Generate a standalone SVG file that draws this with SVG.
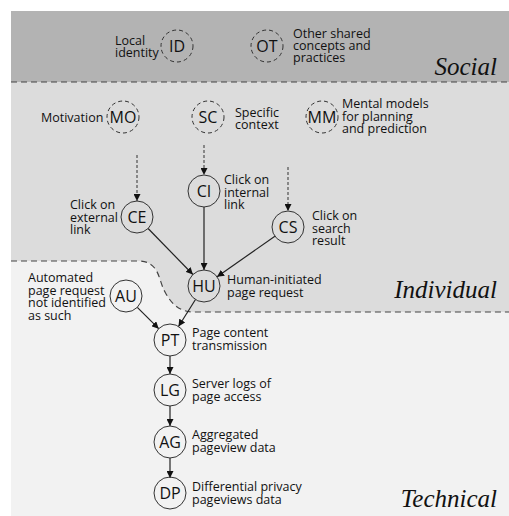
<svg xmlns="http://www.w3.org/2000/svg" width="509" height="516" viewBox="0 0 509 516">
<defs>
<style>
.lbl{font-family:"Open Sans","Noto Sans",sans-serif;font-size:12.5px;fill:#111}
.nt{font-family:"Open Sans","Noto Sans",sans-serif;font-size:16px;fill:#111;text-anchor:middle}
.region{font-family:"Liberation Serif",serif;font-style:italic;font-size:25px;fill:#111;text-anchor:end}
.n{fill:none;stroke:#333;stroke-width:1}
.nd{fill:none;stroke:#333;stroke-width:1;stroke-dasharray:4 3}
.edge{stroke:#222;stroke-width:1.2;fill:none;marker-end:url(#ah)}
.dedge{stroke:#333;stroke-width:1;fill:none;stroke-dasharray:3 2;marker-end:url(#ah)}
.bound{stroke:#444;stroke-width:1.2;fill:none;stroke-dasharray:6 4}
</style>
<marker id="ah" viewBox="0 0 10 10" refX="10" refY="5" markerWidth="7" markerHeight="7" markerUnits="userSpaceOnUse" orient="auto">
<path d="M0,0 L10,5 L0,10 z" fill="#111"/>
</marker>
</defs>
<g id="backgrounds">
<rect x="11" y="11" width="498" height="505" fill="#f2f2f2"/>
<path d="M11,82 H509 V312 H195 C180,312 172,305 165,292 C158,280 160,261 138,261 H11 Z" fill="#dcdcdc"/>
<rect x="11" y="11" width="498" height="71" fill="#b3b3b3"/>
<line x1="11" y1="82" x2="509" y2="82" class="bound"/>
<path d="M11,261 H138 C160,261 158,280 165,292 C172,305 180,312 195,312 H509" class="bound"/>
<text class="region" x="497" y="75">Social</text>
<text class="region" x="497" y="298">Individual</text>
<text class="region" x="497" y="507">Technical</text>
</g>
<g id="connectors">
<line class="dedge" x1="137" y1="155" x2="137" y2="201"/>
<line class="dedge" x1="204" y1="145" x2="204" y2="175"/>
<line class="dedge" x1="288" y1="167" x2="288" y2="211"/>
<line class="edge" x1="148.1" y1="228.5" x2="192.9" y2="274.5"/>
<line class="edge" x1="204" y1="207" x2="204" y2="270"/>
<line class="edge" x1="274.9" y1="236.2" x2="217.1" y2="276.8"/>
<line class="edge" x1="195.5" y1="299.5" x2="178.5" y2="326.5"/>
<line class="edge" x1="137.3" y1="307.3" x2="158.7" y2="328.7"/>
<line class="edge" x1="170" y1="356" x2="170" y2="374"/>
<line class="edge" x1="170" y1="406" x2="170" y2="426"/>
<line class="edge" x1="170" y1="458" x2="170" y2="478"/>
</g>
<g id="ID"><circle class="nd" cx="177" cy="46" r="16"/><text class="nt" x="177" y="51.5">ID</text>
<text class="lbl" x="115"><tspan x="115" y="45">Local</tspan><tspan x="115" y="57">identity</tspan></text></g>
<g id="OT"><circle class="nd" cx="267" cy="46" r="16"/><text class="nt" x="267" y="51.5">OT</text>
<text class="lbl"><tspan x="293" y="38">Other shared</tspan><tspan x="293" y="50">concepts and</tspan><tspan x="293" y="62">practices</tspan></text></g>
<g id="MO"><circle class="nd" cx="123" cy="117" r="16"/><text class="nt" x="123" y="122.5">MO</text>
<text class="lbl" x="41" y="122">Motivation</text></g>
<g id="SC"><circle class="nd" cx="208" cy="117" r="16"/><text class="nt" x="208" y="122.5">SC</text>
<text class="lbl"><tspan x="235" y="117">Specific</tspan><tspan x="235" y="129">context</tspan></text></g>
<g id="MM"><circle class="nd" cx="322" cy="117" r="16"/><text class="nt" x="322" y="122.5">MM</text>
<text class="lbl"><tspan x="342" y="108">Mental models</tspan><tspan x="342" y="120.5">for planning</tspan><tspan x="342" y="133">and prediction</tspan></text></g>
<g id="CI"><circle class="n" cx="204" cy="191" r="16"/><text class="nt" x="204" y="196.5">CI</text>
<text class="lbl"><tspan x="224" y="184">Click on</tspan><tspan x="224" y="196.5">internal</tspan><tspan x="224" y="209">link</tspan></text></g>
<g id="CE"><circle class="n" cx="137" cy="217" r="16"/><text class="nt" x="137" y="222.5">CE</text>
<text class="lbl"><tspan x="70" y="209">Click on</tspan><tspan x="70" y="221.5">external</tspan><tspan x="70" y="234">link</tspan></text></g>
<g id="CS"><circle class="n" cx="288" cy="227" r="16"/><text class="nt" x="288" y="232.5">CS</text>
<text class="lbl"><tspan x="312" y="220">Click on</tspan><tspan x="312" y="232.5">search</tspan><tspan x="312" y="245">result</tspan></text></g>
<g id="HU"><circle class="n" cx="204" cy="286" r="16"/><text class="nt" x="204" y="291.5">HU</text>
<text class="lbl"><tspan x="227" y="284">Human-initiated</tspan><tspan x="227" y="297">page request</tspan></text></g>
<g id="AU"><circle class="n" cx="126" cy="296" r="16"/><text class="nt" x="126" y="301.5">AU</text>
<text class="lbl"><tspan x="28" y="282">Automated</tspan><tspan x="28" y="294.5">page request</tspan><tspan x="28" y="307">not identified</tspan><tspan x="28" y="319.5">as such</tspan></text></g>
<g id="PT"><circle class="n" cx="170" cy="340" r="16"/><text class="nt" x="170" y="345.5">PT</text>
<text class="lbl"><tspan x="192" y="337">Page content</tspan><tspan x="192" y="350">transmission</tspan></text></g>
<g id="LG"><circle class="n" cx="170" cy="390" r="16"/><text class="nt" x="170" y="395.5">LG</text>
<text class="lbl"><tspan x="192" y="388">Server logs of</tspan><tspan x="192" y="400.5">page access</tspan></text></g>
<g id="AG"><circle class="n" cx="170" cy="442" r="16"/><text class="nt" x="170" y="447.5">AG</text>
<text class="lbl"><tspan x="192" y="439">Aggregated</tspan><tspan x="192" y="452">pageview data</tspan></text></g>
<g id="DP"><circle class="n" cx="170" cy="493" r="16"/><text class="nt" x="170" y="498.5">DP</text>
<text class="lbl"><tspan x="192" y="491">Differential privacy</tspan><tspan x="192" y="503.5">pageviews data</tspan></text></g>
</svg>
